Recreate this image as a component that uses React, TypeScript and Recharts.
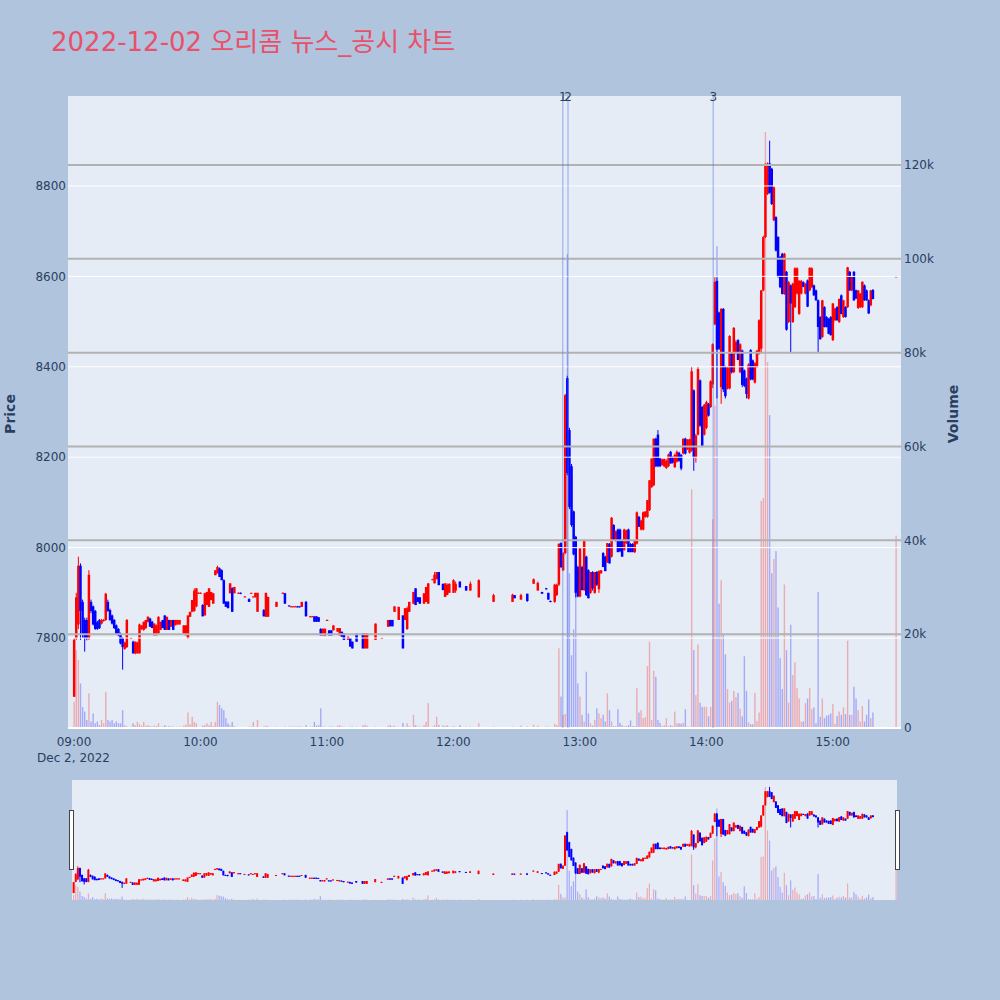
import React from 'react';
import { ComposedChart, Bar, XAxis, YAxis, ReferenceLine } from 'recharts';

type Row = [number, number, number, number, number, number]; // minute, open, high, low, close, volume

const openingCandles: Row[] = [
  [0,7670,7800,7670,7796,5600],[1,7800,7900,7796,7890,16600],[2,7830,7980,7820,7960,14500],
  [3,7960,7965,7796,7860,9500],[4,7880,7885,7800,7810,4500],[5,7840,7845,7770,7800,3500],
  [6,7840,7845,7795,7800,1700],[7,7800,7950,7796,7940,7400],[8,7880,7885,7855,7860,1400],
  [9,7870,7872,7828,7830,3100],[10,7860,7862,7818,7820,1000],[11,7835,7838,7818,7820,1400],
  [12,7840,7842,7820,7822,600],[13,7832,7842,7830,7840,1700],[14,7838,7842,7836,7840,1000],
  [15,7840,7900,7838,7898,7700],[16,7880,7885,7858,7860,1700],[17,7862,7865,7838,7840,1400],
  [18,7850,7852,7830,7832,1700],[19,7840,7842,7820,7822,1000],[20,7828,7830,7808,7810,1400],
  [21,7820,7822,7804,7806,1000],[22,7810,7812,7786,7788,1000],[23,7800,7802,7730,7780,3800],
  [24,7776,7792,7774,7790,600],[25,7780,7842,7778,7840,400],[27,7800,7801,7799,7800,300],
  [28,7792,7794,7766,7766,1000],[29,7766,7792,7764,7792,600],[30,7766,7792,7766,7790,1300],
  [31,7766,7832,7766,7830,800],[32,7820,7828,7818,7828,500],[33,7818,7836,7816,7836,1300],
  [34,7822,7840,7820,7840,500],[35,7836,7848,7834,7847,600],[36,7843,7845,7825,7825,400],
  [37,7836,7838,7822,7822,300],[38,7806,7832,7806,7832,500],[39,7806,7830,7806,7828,400],
  [40,7810,7848,7810,7847,1000],[41,7818,7836,7818,7836,300],[42,7840,7840,7822,7822,300],
  [43,7850,7850,7818,7818,600],[44,7818,7847,7818,7847,300],[45,7840,7840,7818,7818,400],
  [46,7825,7840,7825,7840,300],[47,7840,7840,7818,7818,300],[48,7828,7840,7828,7840,200],
  [49,7830,7840,7830,7840,300],[50,7830,7840,7830,7840,300],[52,7810,7828,7810,7828,500],
  [53,7806,7828,7806,7828,700],[54,7800,7850,7798,7850,3300],[55,7847,7858,7847,7858,800],
  [56,7858,7884,7858,7884,2400],[57,7860,7910,7858,7905,1300],[58,7870,7910,7868,7910,1000],
];

const lateMorningCandles: Row[] = [
  [59,7900,7901,7899,7900,200],[60,7900,7901,7899,7900,200],[61,7873,7875,7848,7848,500],
  [62,7850,7900,7850,7899,600],[63,7873,7902,7873,7902,1000],[64,7869,7910,7869,7910,600],
  [65,7884,7902,7884,7902,1300],[66,7876,7899,7876,7899,400],[67,7939,7950,7939,7950,1300],
  [68,7943,7960,7943,7957,5600],[69,7954,7956,7935,7935,4900],[70,7950,7952,7928,7928,4200],
  [71,7928,7930,7876,7876,3800],[72,7880,7882,7869,7869,2100],[73,7880,7882,7866,7866,1000],
  [74,7899,7921,7899,7921,600],[75,7910,7912,7858,7858,1300],[76,7899,7913,7899,7913,400],
  [78,7900,7901,7899,7900,200],[79,7900,7901,7897,7898,200],[81,7890,7892,7890,7892,200],
  [83,7886,7888,7880,7880,300],[84,7899,7900,7899,7900,300],[85,7890,7892,7890,7892,1300],
  [86,7890,7900,7890,7900,200],[87,7858,7900,7858,7900,1700],[90,7862,7864,7848,7848,300],
  [91,7847,7900,7847,7900,500],[92,7847,7891,7847,7891,400],[96,7869,7880,7869,7880,300],
  [99,7900,7901,7899,7900,100],[100,7899,7900,7876,7876,300],[102,7872,7872,7870,7870,300],
  [103,7870,7871,7869,7870,300],[104,7870,7871,7869,7870,300],[105,7870,7871,7869,7870,300],
  [106,7870,7871,7868,7869,300],[107,7870,7871,7868,7869,300],[108,7869,7880,7869,7880,300],
  [110,7880,7882,7848,7848,600],[112,7848,7849,7847,7848,300],[113,7848,7849,7847,7848,300],
  [114,7848,7848,7836,7836,1300],[115,7848,7848,7836,7836,500],[116,7846,7846,7836,7836,600],
  [117,7820,7822,7806,7806,4200],[118,7806,7822,7806,7820,300],[119,7806,7822,7804,7820,300],
  [120,7840,7841,7839,7840,200],[121,7817,7817,7806,7806,300],[122,7817,7817,7806,7806,300],
  [123,7817,7828,7817,7828,300],[125,7814,7822,7814,7822,500],[126,7806,7822,7806,7822,600],
  [127,7814,7814,7803,7803,300],[128,7810,7810,7796,7796,300],[130,7796,7803,7796,7803,200],
  [131,7800,7800,7781,7781,300],[132,7792,7792,7777,7777,300],[134,7810,7810,7792,7792,300],
  [137,7810,7810,7777,7777,500],[138,7777,7810,7777,7810,700],[139,7777,7810,7777,7810,500],
  [143,7796,7832,7796,7832,300],[146,7800,7801,7799,7800,200],[149,7825,7840,7825,7840,500],
  [150,7840,7840,7826,7826,600],[151,7840,7840,7826,7826,300],[152,7858,7870,7858,7870,500],
  [154,7840,7869,7840,7869,300],[156,7850,7850,7777,7777,1100],[157,7840,7866,7840,7866,300],
  [158,7820,7870,7818,7866,1000],[159,7858,7880,7858,7880,400],[161,7876,7902,7876,7902,2800],
  [162,7910,7910,7873,7873,600],[163,7890,7890,7880,7880,300],[164,7890,7890,7876,7876,300],
  [166,7876,7899,7876,7899,600],[167,7880,7913,7880,7913,1300],[168,7876,7921,7876,7921,5300],
  [170,7929,7931,7929,7930,300],[171,7921,7946,7921,7940,600],[172,7930,7946,7930,7946,2400],
  [173,7946,7946,7917,7917,600],[175,7920,7920,7906,7906,500],[176,7891,7921,7891,7921,400],
  [177,7895,7921,7895,7918,600],[178,7900,7921,7900,7920,300],
];

const middayCandles: Row[] = [
  [180,7900,7930,7900,7928,400],[181,7905,7925,7900,7920,300],[183,7925,7925,7912,7912,600],
  [186,7915,7915,7905,7905,300],[188,7905,7925,7905,7920,300],[192,7890,7930,7890,7928,1000],
  [199,7880,7898,7880,7895,300],[208,7880,7898,7880,7896,300],[209,7895,7895,7888,7888,200],
  [212,7885,7898,7885,7895,500],[215,7898,7898,7880,7882,300],[218,7920,7932,7920,7930,700],
  [220,7905,7925,7905,7922,500],[222,7902,7902,7898,7898,200],[224,7910,7911,7907,7908,300],
  [225,7900,7900,7885,7885,300],[226,7882,7883,7879,7880,200],[228,7880,7920,7878,7918,900],
  [229,7895,7920,7893,7918,600],[230,7918,8010,7915,8008,17000],[231,8010,8012,7955,7957,6700],
  [232,7950,7990,7948,7988,2800],
];

const surgeCandles: Row[] = [
  [233,7988,8340,7985,8337,3000],[234,8375,8380,8160,8165,101000],[235,8260,8265,8085,8090,33000],
  [236,8180,8185,8046,8050,15500],[237,8080,8082,7983,7985,21000],[238,8024,8026,7890,7900,29000],
  [239,7957,7960,7890,7892,9500],[240,7892,8000,7890,7998,6700],[241,7957,7960,7906,7906,2800],
  [242,7906,8018,7904,8016,1400],[243,7980,7982,7893,7895,12000],[244,7950,7952,7888,7888,3100],
  [245,7900,7946,7898,7946,1000],[246,7946,7948,7905,7910,500],[247,7900,7946,7898,7946,1700],
  [248,7946,7948,7915,7918,4200],[249,7908,7950,7900,7948,3100],[250,7943,7950,7943,7950,2100],
  [251,7988,7990,7957,7957,2800],[252,7980,7982,7948,7948,1400],[253,7968,8010,7966,8010,7400],
  [254,8008,8010,7965,7965,3800],[255,7980,8068,7978,8066,1400],[256,8050,8052,8015,8015,400],
  [257,8015,8038,8013,8036,400],[258,8040,8042,7990,7990,4000],[259,8040,8042,7990,7992,1100],
  [260,8016,8018,7980,7980,600],[261,7995,8042,7993,8040,400],[262,8010,8040,8008,8038,400],
  [263,8040,8042,7990,7990,600],[264,8008,8010,7990,7990,1600],[265,8008,8010,7990,7990,400],
  [266,7990,8016,7988,8016,400],[267,8009,8080,8007,8078,8500],[268,8068,8070,8046,8046,3300],
  [269,8040,8062,8038,8060,3800],[270,8040,8080,8038,8078,2100],[271,8068,8080,8066,8080,2300],
  [272,8068,8105,8066,8105,13200],[273,8083,8149,8081,8149,18400],[274,8134,8197,8132,8197,1700],
  [275,8138,8241,8136,8241,12200],[276,8241,8243,8178,8180,10900],[277,8250,8260,8178,8180,1700],
  [278,8197,8199,8178,8180,1100],[279,8183,8197,8181,8195,400],[280,8180,8197,8178,8196,600],
  [281,8176,8195,8174,8192,2100],[282,8180,8208,8178,8206,400],[283,8212,8214,8186,8186,600],
  [284,8200,8202,8186,8188,400],[285,8178,8208,8176,8205,3500],[286,8190,8215,8188,8212,1000],
  [287,8210,8212,8190,8192,1000],[288,8205,8207,8171,8175,900],[289,8208,8241,8206,8241,1100],
  [290,8241,8243,8206,8208,4000],[291,8218,8240,8216,8238,300],[292,8210,8241,8208,8240,300],
];

const afternoonCandles: Row[] = [
  [293,8215,8400,8212,8390,50900],[294,8348,8350,8170,8200,16600],[295,8200,8252,8188,8248,7000],
  [296,8250,8400,8248,8395,17800],[297,8370,8372,8267,8270,5400],[298,8311,8313,8222,8225,4500],
  [299,8250,8318,8248,8316,4500],[300,8265,8325,8262,8322,4500],[301,8318,8320,8290,8292,2500],
  [302,8311,8370,8309,8368,4500],[303,8361,8452,8353,8450,44500],[304,8494,8598,8492,8588,68700],
  [305,8590,8598,8330,8438,102700],[306,8520,8522,8437,8440,26500],[307,8355,8530,8318,8528,31500],
  [308,8528,8530,8344,8350,19900],[309,8400,8402,8330,8335,15700],[310,8352,8400,8350,8398,8300],
  [311,8352,8470,8350,8468,5400],[312,8430,8432,8385,8388,5800],[313,8388,8488,8386,8486,7900],
  [314,8430,8459,8428,8455,6600],[315,8459,8461,8415,8415,7500],[316,8388,8452,8386,8450,4100],
  [317,8436,8438,8355,8360,2500],[318,8392,8394,8355,8358,15300],[319,8374,8376,8330,8340,7900],
  [320,8330,8408,8328,8405,1200],[321,8437,8439,8370,8372,800],[322,8414,8416,8370,8372,800],
  [323,8365,8410,8363,8408,7500],[324,8400,8437,8398,8436,1500],[325,8429,8505,8427,8503,3300],
  [326,8440,8570,8430,8569,48400],[327,8569,8690,8567,8687,49000],[328,8687,8850,8685,8849,127000],
  [329,8782,8852,8780,8849,78000],[330,8850,8900,8783,8785,66700],[331,8838,8840,8758,8760,33000],
  [332,8724,8800,8722,8797,36000],[333,8731,8733,8655,8657,37700],[334,8687,8689,8597,8599,25700],
  [335,8643,8645,8574,8576,14900],[336,8650,8652,8560,8561,8300],[337,8561,8652,8559,8650,30600],
  [338,8610,8612,8480,8482,16600],[339,8499,8590,8497,8587,5400],[340,8580,8582,8430,8540,22000],
];

const closingCandles: Row[] = [
  [341,8499,8586,8497,8584,11300],[342,8532,8620,8530,8618,14000],[343,8562,8620,8560,8618,8500],
  [344,8517,8592,8515,8590,6300],[345,8562,8592,8560,8590,1400],[346,8587,8589,8576,8577,1400],
  [347,8562,8585,8560,8584,5300],[348,8591,8593,8532,8533,6300],[349,8569,8620,8567,8619,8500],
  [350,8576,8620,8574,8618,4000],[351,8580,8582,8557,8558,4400],[352,8569,8571,8546,8547,1000],
  [353,8547,8549,8430,8488,29000],[354,8510,8512,8460,8461,2400],[355,8466,8548,8464,8547,6300],
  [356,8532,8534,8487,8488,2100],[357,8510,8512,8487,8488,2600],[358,8506,8508,8472,8473,2800],
  [359,8510,8512,8469,8470,3100],[360,8459,8541,8457,8540,5100],[361,8503,8530,8501,8529,900],
  [362,8532,8534,8502,8503,2600],[363,8499,8551,8497,8550,3500],[364,8558,8560,8516,8517,2800],
  [365,8510,8548,8508,8547,4400],[366,8532,8534,8509,8510,3000],[367,8532,8621,8530,8620,18600],
  [368,8610,8612,8568,8569,2800],[369,8569,8600,8567,8599,2800],[370,8610,8612,8546,8547,8800],
  [371,8569,8571,8550,8551,6300],[372,8530,8570,8528,8569,3800],[373,8532,8563,8530,8562,1400],
  [374,8532,8589,8530,8588,4700],[375,8580,8582,8546,8547,1400],[376,8569,8571,8546,8547,2800],
  [377,8547,8549,8517,8518,6100],[378,8536,8570,8534,8569,2100],[379,8570,8572,8549,8550,3300],
  [390,8600,8601,8599,8600,41000],
];

const priceTicks = [7800, 8000, 8200, 8400, 8600, 8800];
const volumeTicks = [0, 20000, 40000, 60000, 80000, 100000, 120000];
const timeTicks = [0, 60, 120, 180, 240, 300, 360];
const newsTimes = [231.9, 234.4, 303.3];
const newsLabels = ['1', '2', '3'];

const TITLE = '2022-12-02 오리콤 뉴스_공시 차트';
const DATE_LABEL = 'Dec 2, 2022';
const FONT = '"DejaVu Sans", "Noto Sans CJK KR", verdana, arial, sans-serif';
const INK = '#2a3f5f';
const UP = '#FF0000';
const DOWN = '#0000FF';

const data = [
  ...openingCandles, ...lateMorningCandles, ...middayCandles,
  ...surgeCandles, ...afternoonCandles, ...closingCandles,
].map(([t, o, h, l, c, v]) => ({ t, o, h, l, c, v, range: [l, h > l ? h : l + 0.5] }));

const fmtTime = (m: number) =>
  `${String(9 + Math.floor(m / 60)).padStart(2, '0')}:${String(m % 60).padStart(2, '0')}`;
const fmtVol = (v: number) => (v === 0 ? '0' : `${v / 1000}k`);

const makeCandle = (bodyW: number) => (props: any) => {
  const { x, y, width, height, payload } = props;
  if (x == null || y == null || !payload) return <g />;
  const cx = x + (width || 0) / 2;
  const [lo, hi] = payload.range;
  const hgt = Math.abs(height || 0);
  const top = height < 0 ? y + height : y;
  const ppu = hgt / (hi - lo);
  const { o, c } = payload;
  const color = c >= o ? UP : DOWN;
  const bTop = top + (hi - Math.max(o, c)) * ppu;
  const bBot = top + (hi - Math.min(o, c)) * ppu;
  const bh = Math.max(bBot - bTop, 1);
  return (
    <g>
      <line x1={cx} x2={cx} y1={top} y2={top + Math.max(hgt, 1)} stroke={color} strokeWidth={1} />
      <rect x={cx - bodyW / 2} y={bTop} width={bodyW} height={bh} fill={color} />
    </g>
  );
};

const makeVolume = (barW: number) => (props: any) => {
  const { x, y, width, height, payload } = props;
  if (x == null || y == null || !payload) return <g />;
  const cx = x + (width || 0) / 2;
  const color = payload.c >= payload.o ? UP : DOWN;
  const hgt = Math.abs(height || 0);
  const top = height < 0 ? y + height : y;
  return <rect x={cx - barW / 2} y={top} width={barW} height={hgt} fill={color} fillOpacity={0.28} />;
};

const MainCandle = makeCandle(2.5);
const MainVolume = makeVolume(1.4);
const MiniCandle = makeCandle(2);
const MiniVolume = makeVolume(1.2);

const TimeTick = (props: any) => {
  const { x, y, payload } = props;
  return (
    <text x={x} y={y + 18} textAnchor="middle" fontSize={12} fill={INK} fontFamily={FONT}>
      {fmtTime(payload.value)}
    </text>
  );
};

export default function App() {
  return (
    <div style={{ position: 'relative', width: 1000, height: 1000, background: '#B0C4DE', overflow: 'hidden', fontFamily: FONT }}>
      <style>{'body{margin:0}'}</style>
      {/* main plot background */}
      <div style={{ position: 'absolute', left: 68, top: 96, width: 833, height: 632, background: '#E5ECF6' }} />
      {/* range slider background */}
      <div style={{ position: 'absolute', left: 72, top: 780, width: 825, height: 120, background: '#E5ECF6' }} />

      <div style={{ position: 'absolute', left: 0, top: 0 }}>
        <ComposedChart width={1000} height={758} data={data} margin={{ top: 96, right: 39, bottom: 0, left: 8 }}>
          <XAxis xAxisId="main" dataKey="t" type="number" domain={[-2.85, 392.4]} allowDataOverflow
            ticks={timeTicks} interval={0} tick={<TimeTick />} tickSize={0} tickMargin={0}
            axisLine={false} tickLine={false} height={30} />
          <XAxis xAxisId="vol" dataKey="t" type="number" domain={[-2.85, 392.4]} allowDataOverflow hide height={0} />
          <YAxis yAxisId="price" orientation="left" domain={[7601, 8999]} allowDataOverflow ticks={priceTicks}
            interval={0} width={60} axisLine={false} tickLine={false} tickSize={0} tickMargin={2}
            tick={{ fill: INK, fontSize: 12, fontFamily: FONT }} />
          <YAxis yAxisId="vol" orientation="right" domain={[0, 134700]} allowDataOverflow ticks={volumeTicks}
            interval={0} width={60} axisLine={false} tickLine={false} tickSize={0} tickMargin={3}
            tickFormatter={fmtVol} tick={{ fill: INK, fontSize: 12, fontFamily: FONT }} />

          {priceTicks.map((p) => (
            <ReferenceLine key={`pg${p}`} xAxisId="main" yAxisId="price" y={p} stroke="#FFFFFF" strokeWidth={1} />
          ))}
          {volumeTicks.filter((v) => v > 0).map((v) => (
            <ReferenceLine key={`vg${v}`} xAxisId="vol" yAxisId="vol" y={v} stroke="#B2B2B2" strokeWidth={2} />
          ))}
          <ReferenceLine xAxisId="vol" yAxisId="vol" y={0} stroke="#FFFFFF" strokeWidth={2} />

          <Bar xAxisId="vol" yAxisId="vol" dataKey="v" shape={<MainVolume />} isAnimationActive={false} />
          <Bar xAxisId="main" yAxisId="price" dataKey={(d: any) => d.range} shape={<MainCandle />} isAnimationActive={false} />

          {newsTimes.map((t, i) => (
            <ReferenceLine key={`n${i}`} xAxisId="main" yAxisId="price" x={t} stroke="#4169E1" strokeOpacity={0.35}
              strokeWidth={1.5}
              label={{ value: newsLabels[i], position: 'top', offset: -5, fill: INK, fontSize: 12, fontFamily: FONT }} />
          ))}
        </ComposedChart>
      </div>

      {/* range slider mini chart */}
      <div style={{ position: 'absolute', left: 72, top: 780 }}>
        <ComposedChart width={825} height={120} data={data} margin={{ top: 0, right: 0, bottom: 0, left: 0 }}>
          <XAxis xAxisId="main" dataKey="t" type="number" domain={[-0.7, 390.5]} allowDataOverflow hide height={0} />
          <XAxis xAxisId="vol" dataKey="t" type="number" domain={[-0.7, 390.5]} allowDataOverflow hide height={0} />
          <YAxis yAxisId="price" domain={[7590, 8980]} allowDataOverflow hide width={0} />
          <YAxis yAxisId="vol" orientation="right" domain={[0, 134700]} allowDataOverflow hide width={0} />
          <Bar xAxisId="vol" yAxisId="vol" dataKey="v" shape={<MiniVolume />} isAnimationActive={false} />
          <Bar xAxisId="main" yAxisId="price" dataKey={(d: any) => d.range} shape={<MiniCandle />} isAnimationActive={false} />
        </ComposedChart>
      </div>

      {/* range slider handles */}
      <div style={{ position: 'absolute', left: 69, top: 810, width: 3, height: 58, background: '#fff', border: '1px solid #444' }} />
      <div style={{ position: 'absolute', left: 895, top: 810, width: 3, height: 58, background: '#fff', border: '1px solid #444' }} />

      <svg width={1000} height={1000} style={{ position: 'absolute', left: 0, top: 0, pointerEvents: 'none' }}>
        <text x={51} y={50.5} fontSize={26} fill="#E9506A" fontFamily={FONT}>{TITLE}</text>
        <text x={15} y={414} fontSize={14} fontWeight="bold" fill={INK} fontFamily={FONT}
          textAnchor="middle" transform="rotate(-90 15 414)">Price</text>
        <text x={958} y={414} fontSize={14} fontWeight="bold" fill={INK} fontFamily={FONT}
          textAnchor="middle" transform="rotate(-90 958 414)">Volume</text>
        <text x={73.5} y={762} fontSize={12} fill={INK} fontFamily={FONT} textAnchor="middle">{DATE_LABEL}</text>
      </svg>
    </div>
  );
}
